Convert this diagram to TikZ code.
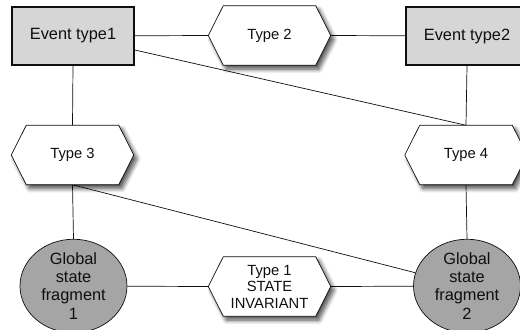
\documentclass[tikz,border=0pt]{standalone}
\usepackage{fontspec}
\setmainfont{Liberation Sans}
\usetikzlibrary{shapes.geometric,shadows.blur}
\definecolor{boxgray}{RGB}{214,214,214}
\definecolor{stategray}{RGB}{165,165,165}
\definecolor{ink}{RGB}{15,15,15}
\pgfdeclarelayer{edgelayer}
\pgfdeclarelayer{shapelayer}
\pgfsetlayers{edgelayer,shapelayer,main}
% flat-topped hexagon around a placeholder node
\newcommand\hexframe[1]{%
  \begin{pgfonlayer}{shapelayer}
    \path[hexshape] (#1.west) -- ([xshift=0.30cm]#1.north west)
      -- ([xshift=-0.30cm]#1.north east) -- (#1.east)
      -- ([xshift=-0.30cm]#1.south east) -- ([xshift=0.30cm]#1.south west) -- cycle;
  \end{pgfonlayer}}
\begin{document}
\begin{tikzpicture}[x=0.02cm,y=-0.02cm,line width=0.85pt,
  event/.style={draw=ink,fill=boxgray,minimum width=2.44cm,minimum height=1.16cm,
    inner sep=0pt,text=ink,font=\fontsize{9.3}{11}\selectfont},
  hexslot/.style={minimum width=2.42cm,minimum height=1.16cm,inner sep=0pt,
    align=center,text=ink,font=\fontsize{8.4}{9.4}\selectfont},
  hexshape/.style={draw=ink,fill=white,line join=miter,
    blur shadow={shadow xshift=1.8pt,shadow yshift=-2.2pt,
      shadow blur radius=2.4pt,shadow blur steps=8,shadow opacity=70}},
  gstate/.style={ellipse,draw=ink,fill=stategray,minimum width=2.14cm,
    minimum height=1.72cm,inner sep=0pt,align=center,text=ink,
    font=\fontsize{9.3}{10.3}\selectfont},
  link/.style={draw=ink}]
\path[use as bounding box,clip] (0,0) rectangle (520,329);

% event types
\node[event] (E1) at (73,36) {Event type1};
\node[event] (E2) at (467,36) {Event type2};

% typed relations
\node[hexslot] (T2) at (269.5,35.5) {Type 2};
\node[hexslot] (T3) at (72.5,155) {Type 3};
\node[hexslot] (T4) at (466,155) {Type 4};
\node[hexslot] (T1) at (269.5,286.5) {Type 1\\STATE\\INVARIANT};
\hexframe{T2}
\hexframe{T3}
\hexframe{T4}
\hexframe{T1}

% global state fragments
\node[gstate] (G1) at (73.5,286) {Global\\state\\fragment\\1};
\node[gstate] (G2) at (467,286) {Global\\state\\fragment\\2};

% connectors
\begin{pgfonlayer}{edgelayer}
  \draw[link] (E1) -- (T2.west);
  \draw[link] (T2.east) -- (E2);
  \draw[link] (E1.south) -- (T3.north);
  \draw[link] (E2.south) -- (T4.north);
  \draw[link] (E1) -- (T4.north);
  \draw[link] (T3.south) -- (G1.north);
  \draw[link] (T3.south) -- (G2);
  \draw[link] (T4.south) -- (G2.north);
  \draw[link] (G1) -- (T1.west);
  \draw[link] (T1.east) -- (G2);
\end{pgfonlayer}
\end{tikzpicture}
\end{document}
